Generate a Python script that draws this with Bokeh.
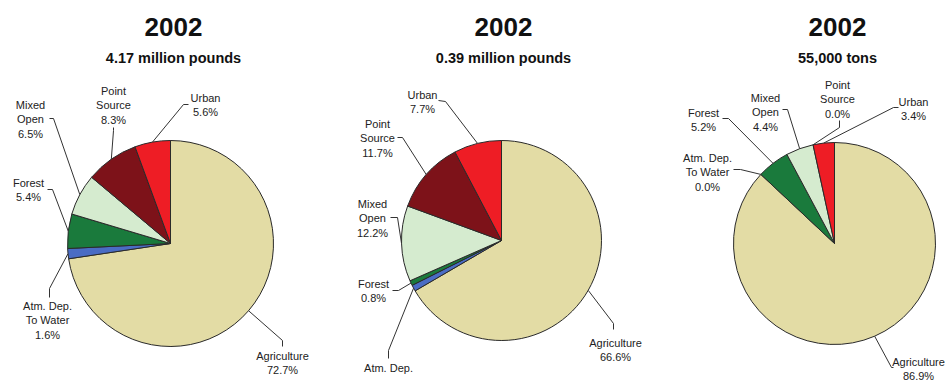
import math
from bokeh.plotting import figure
from bokeh.models import Range1d, ColumnDataSource
from bokeh.core.properties import value
from bokeh.embed import file_html
from bokeh.resources import INLINE

# ---------------- data ----------------
categories = ["Agriculture", "Atm. Dep. To Water", "Forest", "Mixed Open", "Point Source", "Urban"]
label_names = [["Agriculture"], ["Atm. Dep.", "To Water"], ["Forest"], ["Mixed", "Open"],
               ["Point", "Source"], ["Urban"]]
titles = ["2002", "2002", "2002"]
subtitles = ["4.17 million pounds", "0.39 million pounds", "55,000 tons"]
pct_panel1 = [72.7, 1.6, 5.4, 6.5, 8.3, 5.6]
pct_panel2 = [66.6, 1.0, 0.8, 12.2, 11.7, 7.7]
pct_panel3 = [86.9, 0.0, 5.2, 4.4, 0.0, 3.4]
panel_values = [pct_panel1, pct_panel2, pct_panel3]

# ---------------- styles / layout ----------------
colors = ["#E3DCA5", "#4A6CC4", "#1A7A3C", "#D5EBCF", "#7D1219", "#EE1D25"]
W, H = 948, 384
centers = [(170, 243), (501, 240), (834, 243)]
radii = [103, 100, 101]
title_x = [173, 503, 837]
title_y, subtitle_y = 26, 57
line_step = 14.5
# per panel, per category: label centre x, first-line y, elbow point, end point (pixels, top-down)
label_layout = [
    [(282, 355, (282, 340), (282, 346)),
     (47, 305, (49, 288), (49, 297)),
     (28, 182, (52, 189), (47, 189)),
     (30, 104, (53, 118), (49, 118)),
     (113, 90, (113, 130), (113, 127)),
     (205, 97, (183, 104), (188, 104))],
    [(615, 342, (613, 323), (613, 329)),
     (388, 367, (388, 350), (388, 358)),
     (373, 283, (398, 290), (392, 290)),
     (372, 203, (397, 217), (390, 217)),
     (377, 123, (402, 137), (397, 137)),
     (422, 94, (445, 101), (438, 100))],
    [(918, 361, (891, 367), (893, 367)),
     (707, 157, (740, 169), (733, 169)),
     (703, 112, (728, 118), (722, 118)),
     (765, 97, (787, 109), (782, 109)),
     (837, 84, (839, 127), (839, 120)),
     (913, 101, (893, 107), (898, 107))],
]
# lines of a label that are visible inside the picture (panel, category) -> count
visible_lines = {(1, 1): 1}

p = figure(width=W, height=H, output_backend="svg", toolbar_location=None,
           x_range=Range1d(0, W), y_range=Range1d(0, H), min_border=0)
p.axis.visible = False
p.grid.visible = False
p.outline_line_color = None
p.background_fill_color = "white"
p.border_fill_color = "white"

font = value("Liberation Sans")

for k, vals in enumerate(panel_values):
    cx, cy = centers[k]
    r = radii[k]
    total = sum(vals)
    cum = 0.0
    wx, wy, ws, we, wc = [], [], [], [], []
    mids = []
    for i, v in enumerate(vals):
        a0 = cum / total * 2 * math.pi
        cum += v
        a1 = cum / total * 2 * math.pi
        mids.append((a0 + a1) / 2)
        if v > 0:
            wx.append(cx); wy.append(H - cy)
            ws.append(math.pi / 2 - a0); we.append(math.pi / 2 - a1)
            wc.append(colors[i])
    src = ColumnDataSource(dict(x=wx, y=wy, s=ws, e=we, c=wc))
    p.wedge(x="x", y="y", radius=r, start_angle="s", end_angle="e", direction="clock",
            fill_color="c", line_color="#2a2a2a", line_width=1, source=src)

    # leader lines
    xs, ys = [], []
    for i, m in enumerate(mids):
        lx, ly, (ex, ey), (tx, ty) = label_layout[k][i]
        rx = cx + r * math.sin(m)
        ry = cy - r * math.cos(m)
        xs.append([rx, ex, tx])
        ys.append([H - ry, H - ey, H - ty])
    p.multi_line(xs=xs, ys=ys, line_color="#333333", line_width=1)

    # labels
    tx_, ty_, tt_ = [], [], []
    for i, v in enumerate(vals):
        lx, ly, _, _ = label_layout[k][i]
        lines = label_names[i] + ["%.1f%%" % v]
        n = visible_lines.get((k, i), len(lines))
        for j, t in enumerate(lines[:n]):
            tx_.append(lx); ty_.append(H - (ly + j * line_step)); tt_.append(t)
    p.text(x=tx_, y=ty_, text=tt_, text_font=font, text_font_size="11px",
           text_color="#222222", text_align="center", text_baseline="middle")

    # titles
    p.text(x=[title_x[k]], y=[H - title_y], text=[titles[k]], text_font=font,
           text_font_size="26px", text_font_style="bold", text_color="#111111",
           text_align="center", text_baseline="middle")
    p.text(x=[title_x[k]], y=[H - subtitle_y], text=[subtitles[k]], text_font=font,
           text_font_size="14.5px", text_font_style="bold", text_color="#111111",
           text_align="center", text_baseline="middle")

open("out.html", "w").write(file_html(p, INLINE))
